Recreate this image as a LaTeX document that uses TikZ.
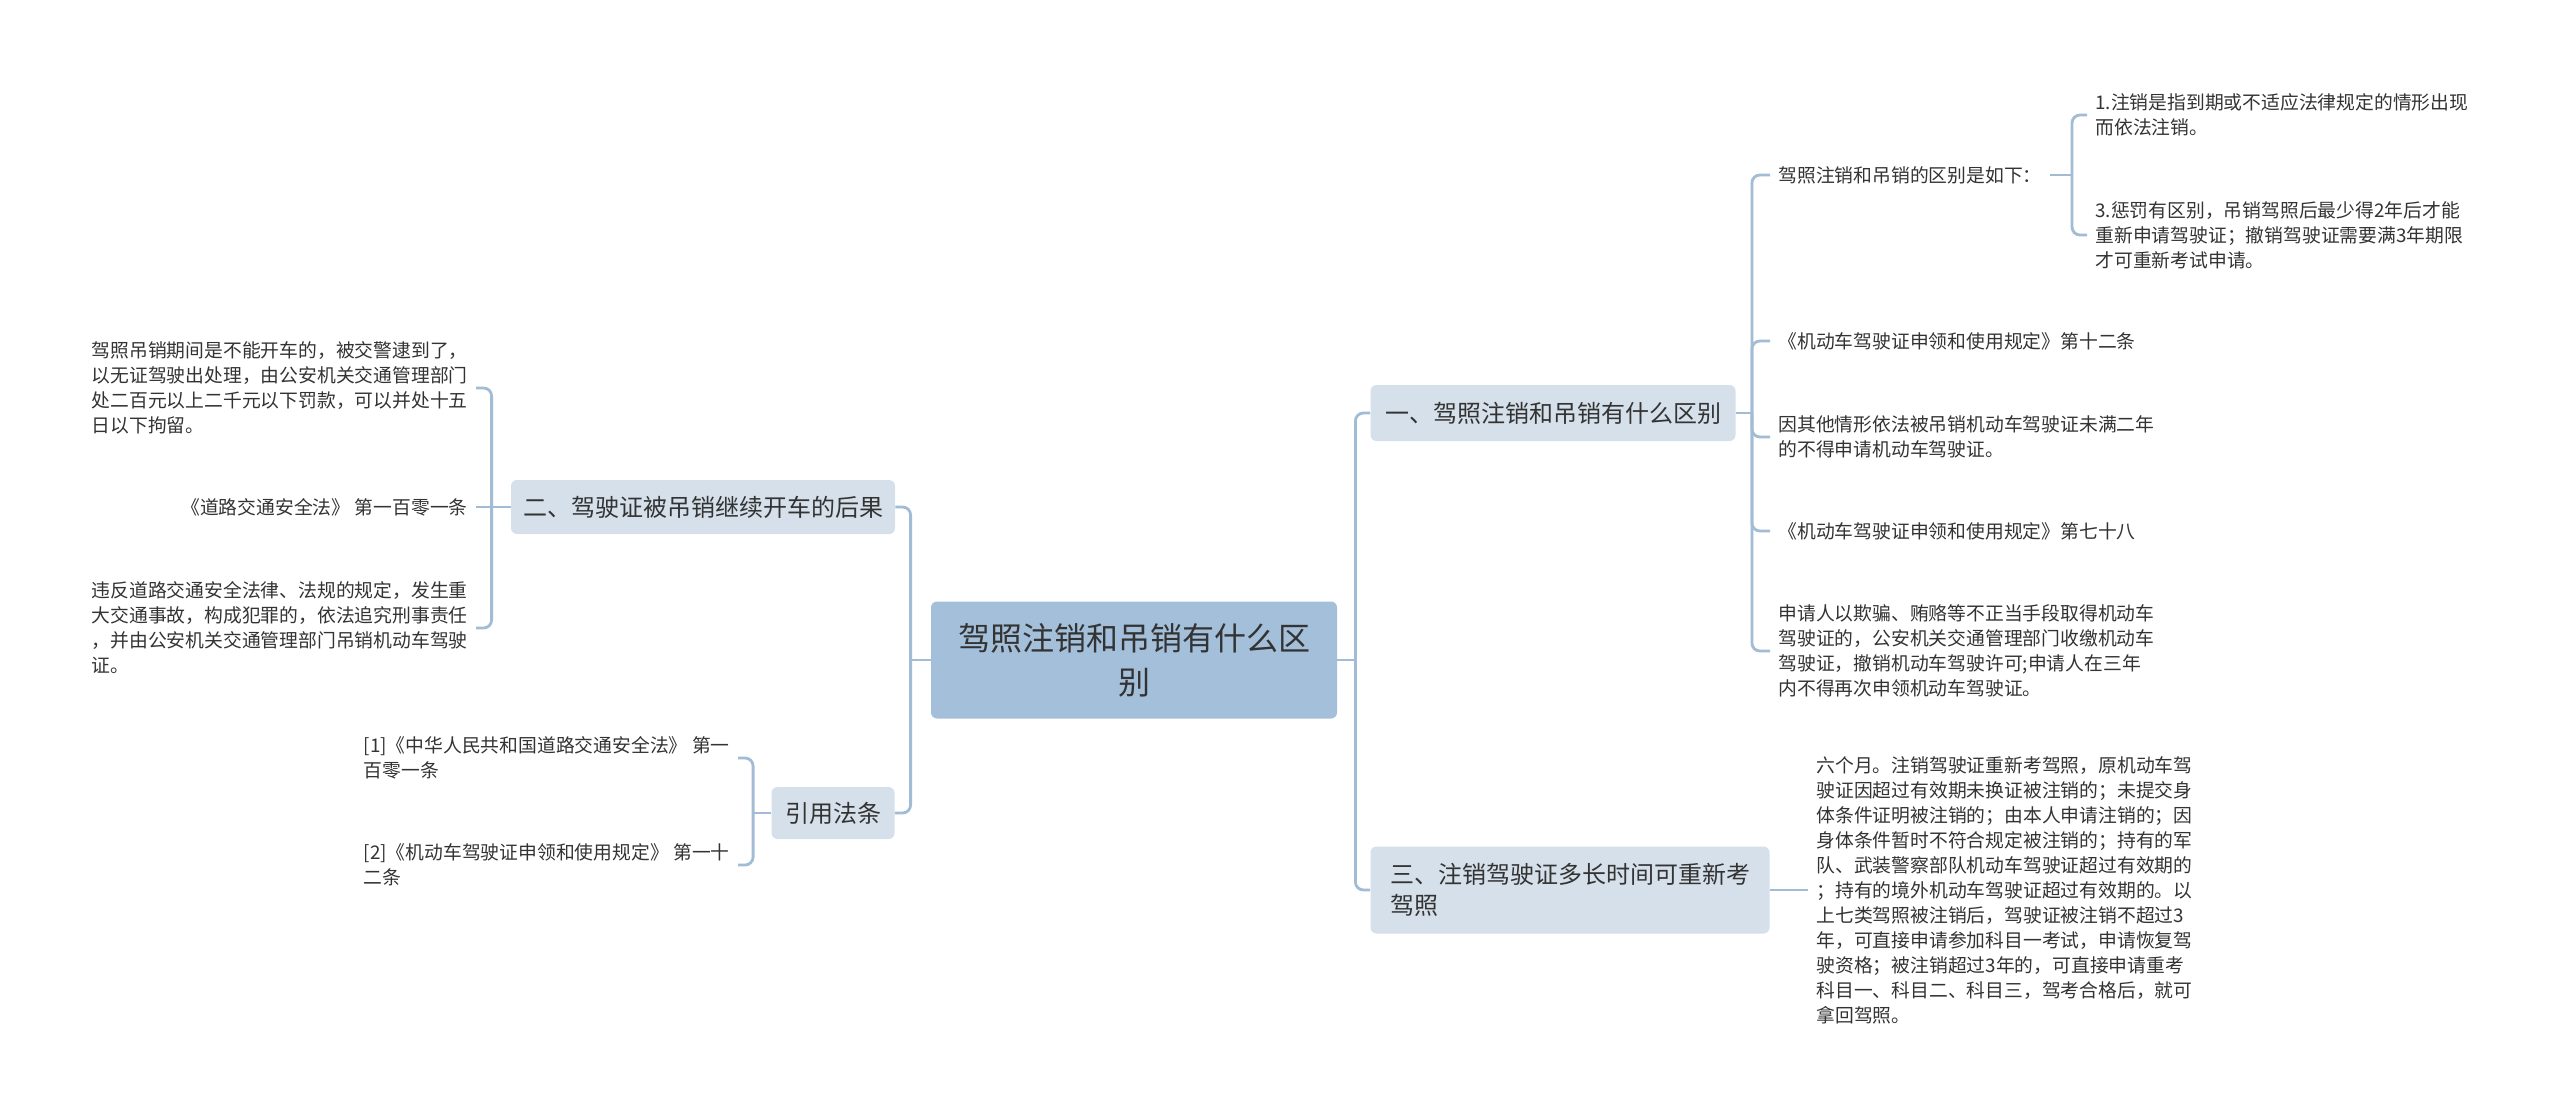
\documentclass[tikz,border=0pt]{standalone}
\usepackage{xcolor}
\usepackage{fontspec}
\setmainfont{Noto Sans CJK SC}
\usepackage{tikz}
\usetikzlibrary{positioning}

\definecolor{rootfill}{HTML}{A3BFDA}
\definecolor{topicfill}{HTML}{D5E0EA}
\definecolor{linkblue}{HTML}{A2BCD6}
\definecolor{inkgray}{HTML}{333333}

\begin{document}
\begin{tikzpicture}[x=0.5pt, y=-0.5pt,
  every node/.style={text=inkgray},
  root/.style={fill=rootfill, rounded corners=3pt, align=center, minimum width=203pt, minimum height=58.5pt, font=\fontsize{16}{22}\selectfont},
  topic/.style={fill=topicfill, rounded corners=3pt, align=left, font=\fontsize{12}{15.5}\selectfont},
  leaf/.style={align=left, inner xsep=4pt, inner ysep=2pt, font=\fontsize{9.4}{12.5}\selectfont},
  conn/.style={draw=linkblue, line width=1.4pt, rounded corners=4pt}]
  \fill[white] (0,0) rectangle (2560,1113);

  % centre and main topics
  \node[root] (root) at (1134,660) {驾照注销和吊销有什么区\\别};
  \node[topic, minimum width=182.5pt, minimum height=28pt] (one) at (1553,413) {一、驾照注销和吊销有什么区别};
  \node[topic, minimum width=199.5pt, minimum height=43.5pt] (three) at (1570,890) {三、注销驾驶证多长时间可重新考\\驾照};
  \node[topic, minimum width=192pt, minimum height=27pt] (two) at (703,507) {二、驾驶证被吊销继续开车的后果};
  \node[topic, minimum width=61.5pt, minimum height=26pt] (cite) at (833,813) {引用法条};

  % right side: under topic one
  \node[leaf, anchor=west] (diff) at (1770,175) {驾照注销和吊销的区别是如下：};
  \node[leaf, anchor=west] (diffa) at (2087,115) {1.注销是指到期或不适应法律规定的情形出现\\而依法注销。};
  \node[leaf, anchor=west] (diffc) at (2087,235) {3.惩罚有区别，吊销驾照后最少得2年后才能\\重新申请驾驶证；撤销驾驶证需要满3年期限\\才可重新考试申请。};
  \node[leaf, anchor=west] (rulea) at (1770,341) {《机动车驾驶证申领和使用规定》第十二条};
  \node[leaf, anchor=west] (twoyr) at (1770,437) {因其他情形依法被吊销机动车驾驶证未满二年\\的不得申请机动车驾驶证。};
  \node[leaf, anchor=west] (ruleb) at (1770,531) {《机动车驾驶证申领和使用规定》第七十八};
  \node[leaf, anchor=west] (fraud) at (1770,651) {申请人以欺骗、贿赂等不正当手段取得机动车\\驾驶证的，公安机关交通管理部门收缴机动车\\驾驶证，撤销机动车驾驶许可;申请人在三年\\内不得再次申领机动车驾驶证。};

  % right side: under topic three
  \node[leaf, anchor=west] (sixmo) at (1808,890) {六个月。注销驾驶证重新考驾照，原机动车驾\\驶证因超过有效期未换证被注销的；未提交身\\体条件证明被注销的；由本人申请注销的；因\\身体条件暂时不符合规定被注销的；持有的军\\队、武装警察部队机动车驾驶证超过有效期的\\；持有的境外机动车驾驶证超过有效期的。以\\上七类驾照被注销后，驾驶证被注销不超过3\\年，可直接申请参加科目一考试，申请恢复驾\\驶资格；被注销超过3年的，可直接申请重考\\科目一、科目二、科目三，驾考合格后，就可\\拿回驾照。};

  % left side: under topic two
  \node[leaf, anchor=east] (caught) at (476,388) {驾照吊销期间是不能开车的，被交警逮到了，\\以无证驾驶出处理，由公安机关交通管理部门\\处二百元以上二千元以下罚款，可以并处十五\\日以下拘留。};
  \node[leaf, anchor=east] (lawa) at (476,507) {《道路交通安全法》 第一百零一条};
  \node[leaf, anchor=east] (crime) at (476,628) {违反道路交通安全法律、法规的规定，发生重\\大交通事故，构成犯罪的，依法追究刑事责任\\，并由公安机关交通管理部门吊销机动车驾驶\\证。};

  % left side: cited laws
  \node[leaf, anchor=east] (cita) at (738,758) {[1]《中华人民共和国道路交通安全法》 第一\\百零一条};
  \node[leaf, anchor=east] (citb) at (738,865) {[2]《机动车驾驶证申领和使用规定》 第一十\\二条};

  % connectors
  \draw[conn] (root.east) -- ++(18,0) coordinate (jr);
  \foreach \c in {one,three} \draw[conn] (jr) |- (\c.west);
  \draw[conn] (root.west) -- ++(-20,0) coordinate (jl);
  \foreach \c in {two,cite} \draw[conn] (jl) |- (\c.east);

  \draw[conn] (one.east) -- ++(16,0) coordinate (jone);
  \foreach \c in {diff,rulea,twoyr,ruleb,fraud} \draw[conn] (jone) |- (\c.west);
  \draw[conn] (diff.east) -- ++(22,0) coordinate (jdiff);
  \foreach \c in {diffa,diffc} \draw[conn] (jdiff) |- (\c.west);
  \draw[conn] (three.east) -- (sixmo.west);

  \draw[conn] (two.west) -- ++(-19,0) coordinate (jtwo);
  \foreach \c in {caught,crime} \draw[conn] (jtwo) |- (\c.east);
  \draw[conn] (jtwo) -- (lawa.east);
  \draw[conn] (cite.west) -- ++(-18,0) coordinate (jcite);
  \foreach \c in {cita,citb} \draw[conn] (jcite) |- (\c.east);
\end{tikzpicture}
\end{document}
